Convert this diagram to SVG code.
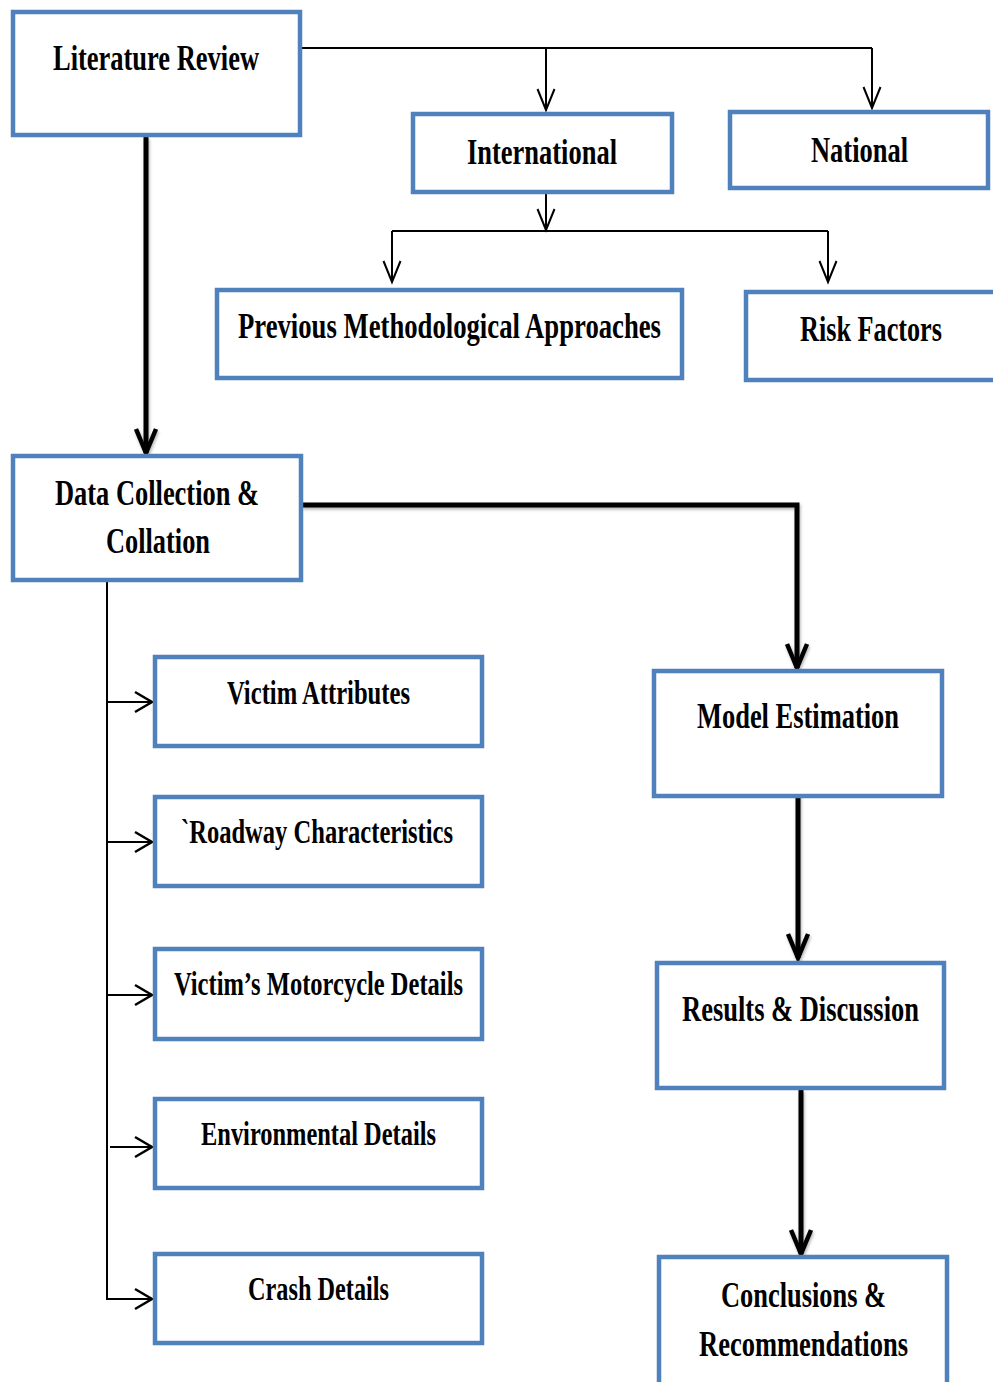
<svg xmlns="http://www.w3.org/2000/svg" width="993" height="1382" viewBox="0 0 993 1382">
<defs>
<style>
.box{fill:#fff;stroke:#4F81BD;stroke-width:4.5}
.t{font-family:"Liberation Serif","Times New Roman",serif;font-weight:bold;font-size:36px;fill:#000;text-anchor:middle}
.s{font-size:34px}
.thin{fill:none;stroke:#000;stroke-width:2}
.thick{fill:none;stroke:#000;stroke-width:5}
</style>
<filter id="sh" filterUnits="userSpaceOnUse" x="0" y="0" width="993" height="1382">
<feDropShadow dx="1" dy="2" stdDeviation="1.5" flood-color="#000" flood-opacity="0.3"/>
</filter>
<marker id="aThin" markerUnits="userSpaceOnUse" markerWidth="30" markerHeight="30" viewBox="0 0 30 30" refX="22" refY="10" orient="auto" overflow="visible">
<path d="M1,1.5 L22,10 L1,18.5" fill="none" stroke="#000" stroke-width="2"/>
</marker>
<marker id="aSide" markerUnits="userSpaceOnUse" markerWidth="30" markerHeight="30" viewBox="0 0 30 30" refX="19" refY="12" orient="auto" overflow="visible">
<path d="M2,2 L19,12 L2,22" fill="none" stroke="#000" stroke-width="2.5"/>
</marker>
<marker id="aThick" markerUnits="userSpaceOnUse" markerWidth="40" markerHeight="40" viewBox="0 0 40 40" refX="26" refY="12" orient="auto" overflow="visible">
<path d="M2,2 L26,12 L2,22" fill="none" stroke="#000" stroke-width="4.5" stroke-linejoin="miter"/>
</marker>
</defs>
<rect width="993" height="1382" fill="#fff"/>

<g id="connectors">
<polyline class="thin" points="302,48 872,48"/>
<line class="thin" x1="872" y1="48" x2="872" y2="108" marker-end="url(#aThin)"/>
<line class="thin" x1="546" y1="48" x2="546" y2="110" marker-end="url(#aThin)"/>
<line class="thin" x1="546" y1="193" x2="546" y2="230" marker-end="url(#aThin)"/>
<polyline class="thin" points="392,231 828,231"/>
<line class="thin" x1="392" y1="231" x2="392" y2="282" marker-end="url(#aThin)"/>
<line class="thin" x1="828" y1="231" x2="828" y2="282" marker-end="url(#aThin)"/>

<g filter="url(#sh)">
<line class="thick" x1="146" y1="137" x2="146" y2="453" marker-end="url(#aThick)"/>
<polyline class="thick" points="302,505 797,505 797,668" marker-end="url(#aThick)"/>
<line class="thick" x1="798" y1="792" x2="798" y2="958" marker-end="url(#aThick)"/>
<line class="thick" x1="801" y1="1090" x2="801" y2="1254" marker-end="url(#aThick)"/>
</g>

<line class="thin" x1="107" y1="582" x2="107" y2="1300"/>
<line class="thin" x1="108" y1="702" x2="152" y2="702" marker-end="url(#aSide)"/>
<line class="thin" x1="108" y1="842" x2="152" y2="842" marker-end="url(#aSide)"/>
<line class="thin" x1="108" y1="995" x2="152" y2="995" marker-end="url(#aSide)"/>
<line class="thin" x1="110" y1="1147" x2="152" y2="1147" marker-end="url(#aSide)"/>
<line class="thin" x1="108" y1="1299" x2="152" y2="1299" marker-end="url(#aSide)"/>
</g>

<g id="literature-review">
<rect class="box" x="13" y="12" width="287" height="123"/>
<text class="t" x="156" y="70" textLength="206" lengthAdjust="spacingAndGlyphs">Literature Review</text>
</g>
<g id="international">
<rect class="box" x="413" y="114" width="259" height="78"/>
<text class="t" x="542" y="164" textLength="150" lengthAdjust="spacingAndGlyphs">International</text>
</g>
<g id="national">
<rect class="box" x="730" y="112" width="258" height="76"/>
<text class="t" x="859.5" y="162" textLength="97" lengthAdjust="spacingAndGlyphs">National</text>
</g>
<g id="previous-methodological-approaches">
<rect class="box" x="217" y="290" width="465" height="88"/>
<text class="t" x="449.5" y="338" textLength="423" lengthAdjust="spacingAndGlyphs">Previous Methodological Approaches</text>
</g>
<g id="risk-factors">
<rect class="box" x="746" y="292" width="260" height="88"/>
<text class="t" transform="translate(871,341) scale(0.728,1)">Risk Factors</text>
</g>
<g id="data-collection">
<rect class="box" x="13" y="456" width="288" height="124"/>
<text class="t" x="157" y="505" textLength="204" lengthAdjust="spacingAndGlyphs">Data Collection &amp;</text>
<text class="t" x="158" y="553" textLength="104" lengthAdjust="spacingAndGlyphs">Collation</text>
</g>
<g id="victim-attributes">
<rect class="box" x="155" y="657" width="327" height="89"/>
<text class="t s" x="318.5" y="704" textLength="183" lengthAdjust="spacingAndGlyphs">Victim Attributes</text>
</g>
<g id="roadway-characteristics">
<rect class="box" x="155" y="797" width="327" height="89"/>
<text class="t s" x="317" y="843" textLength="272" lengthAdjust="spacingAndGlyphs">`Roadway Characteristics</text>
</g>
<g id="victims-motorcycle-details">
<rect class="box" x="155" y="949" width="327" height="90"/>
<text class="t s" x="318.5" y="995" textLength="289" lengthAdjust="spacingAndGlyphs">Victim’s Motorcycle Details</text>
</g>
<g id="environmental-details">
<rect class="box" x="155" y="1099" width="327" height="89"/>
<text class="t s" x="318.5" y="1145" textLength="235" lengthAdjust="spacingAndGlyphs">Environmental Details</text>
</g>
<g id="crash-details">
<rect class="box" x="155" y="1254" width="327" height="89"/>
<text class="t s" x="318.5" y="1300" textLength="141" lengthAdjust="spacingAndGlyphs">Crash Details</text>
</g>
<g id="model-estimation">
<rect class="box" x="654" y="671" width="288" height="125"/>
<text class="t" x="798" y="728" textLength="202" lengthAdjust="spacingAndGlyphs">Model Estimation</text>
</g>
<g id="results-discussion">
<rect class="box" x="657" y="963" width="287" height="125"/>
<text class="t" transform="translate(800.5,1021) scale(0.736,1)">Results &amp; Discussion</text>
</g>
<g id="conclusions-recommendations">
<rect class="box" x="659" y="1257" width="288" height="140"/>
<text class="t" x="803.5" y="1307" textLength="165" lengthAdjust="spacingAndGlyphs">Conclusions &amp;</text>
<text class="t" x="803.5" y="1356" textLength="209" lengthAdjust="spacingAndGlyphs">Recommendations</text>
</g>
</svg>
